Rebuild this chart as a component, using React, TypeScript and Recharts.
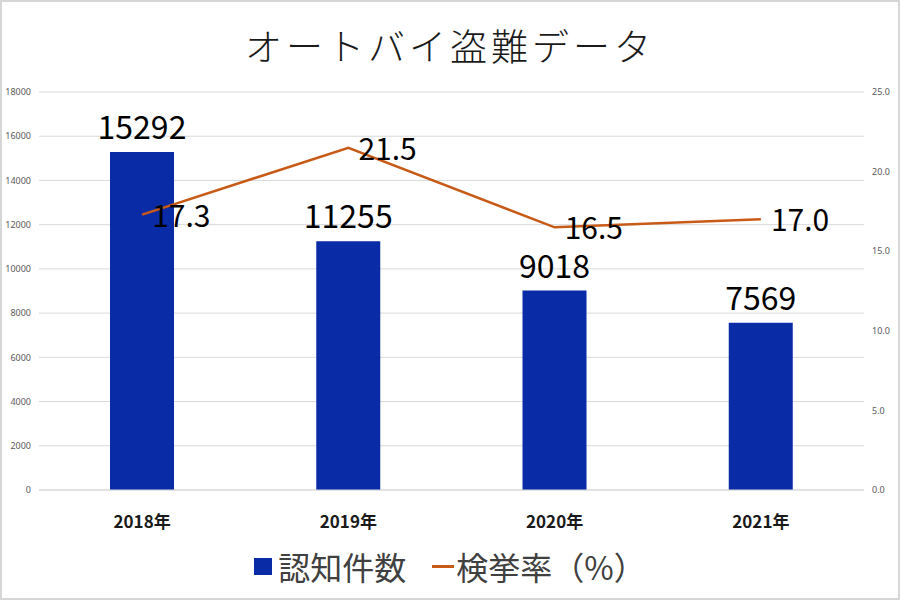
import React from 'react';
import {
	Bar,
	CartesianGrid,
	ComposedChart,
	LabelList,
	Legend,
	Line,
	XAxis,
	YAxis,
} from 'recharts';

// オートバイ盗難データ
const years = ['2018年', '2019年', '2020年', '2021年'];
const recognizedCases = [15292, 11255, 9018, 7569];
const arrestRate = [17.3, 21.5, 16.5, 17.0];

const leftTicks = [0, 2000, 4000, 6000, 8000, 10000, 12000, 14000, 16000, 18000];
const rightTicks = [0, 5, 10, 15, 20, 25];

const BAR_COLOR = '#0a2ba6';
const LINE_COLOR = '#c85a17';
const FONT = '"Noto Sans CJK JP", "Noto Sans", sans-serif';

const data = years.map((year, i) => ({
	year,
	cases: recognizedCases[i],
	rate: arrestRate[i],
}));

const RateLabel = (props: any) => {
	const { x, y, value } = props;
	return (
		<text x={x + 10} y={y + 12} fontSize={30} fill="#000" fontFamily={FONT}>
			{Number(value).toFixed(1)}
		</text>
	);
};

const LegendContent = () => (
	<div
		style={{
			display: 'flex',
			justifyContent: 'center',
			alignItems: 'center',
			fontFamily: FONT,
			fontSize: 32,
			color: '#404040',
			lineHeight: '40px',
		}}
	>
		<span style={{ display: 'inline-block', width: 18, height: 17, background: BAR_COLOR, marginRight: 6 }} />
		<span>認知件数</span>
		<span
			style={{
				display: 'inline-block',
				width: 22,
				height: 3,
				background: LINE_COLOR,
				marginLeft: 26,
				marginRight: 2,
			}}
		/>
		<span>検挙率（%）</span>
	</div>
);

export default function App() {
	return (
		<div style={{ position: 'absolute', left: 0, top: 0, width: 900, height: 600, background: '#fff' }}>
			<div
				style={{
					position: 'absolute',
					top: 18,
					left: 0,
					width: 900,
					textAlign: 'center',
					fontFamily: FONT,
					fontWeight: 300,
					fontSize: 37,
					letterSpacing: 4,
					color: '#1a1a1a',
				}}
			>
				オートバイ盗難データ
			</div>
			<ComposedChart
				width={900}
				height={600}
				data={data}
				margin={{ top: 92, right: 0, bottom: 60, left: 0 }}
			>
				<CartesianGrid vertical={false} stroke="#d9d9d9" yAxisId="left" />
				<XAxis
					dataKey="year"
					axisLine={{ stroke: '#d9d9d9' }}
					tickLine={false}
					height={50}
					tick={{ fontSize: 17, fontWeight: 700, fill: '#1a1a1a', fontFamily: FONT }}
					dy={18}
				/>
				<YAxis
					yAxisId="left"
					width={39}
					domain={[0, 18000]}
					ticks={leftTicks}
					axisLine={false}
					tickLine={false}
					tick={{ fontSize: 9, fill: '#595959', fontFamily: '"Noto Sans", sans-serif' }}
				/>
				<YAxis
					yAxisId="right"
					orientation="right"
					width={36}
					domain={[0, 25]}
					ticks={rightTicks}
					axisLine={false}
					tickLine={false}
					tickFormatter={(v: number) => v.toFixed(1)}
					tick={{ fontSize: 9, fill: '#595959', fontFamily: '"Noto Sans", sans-serif' }}
				/>
				<Bar yAxisId="left" dataKey="cases" name="認知件数" fill={BAR_COLOR} barSize={64} isAnimationActive={false}>
					<LabelList dataKey="cases" position="top" offset={13} fontSize={32} fill="#000" fontFamily={FONT} />
				</Bar>
				<Line
					yAxisId="right"
					dataKey="rate"
					name="検挙率（%）"
					stroke={LINE_COLOR}
					strokeWidth={2.5}
					dot={false}
					activeDot={false}
					type="linear"
					isAnimationActive={false}
				>
					<LabelList dataKey="rate" content={RateLabel} />
				</Line>
				<Legend
					layout="horizontal"
					verticalAlign="middle"
					align="center"
					wrapperStyle={{ top: 546, left: 0, width: 900 }}
					content={LegendContent}
				/>
			</ComposedChart>
			<div
				style={{
					position: 'absolute',
					left: 0,
					top: 0,
					width: 900,
					height: 600,
					boxSizing: 'border-box',
					border: '2px solid #d6d6d6',
					pointerEvents: 'none',
				}}
			/>
		</div>
	);
}
